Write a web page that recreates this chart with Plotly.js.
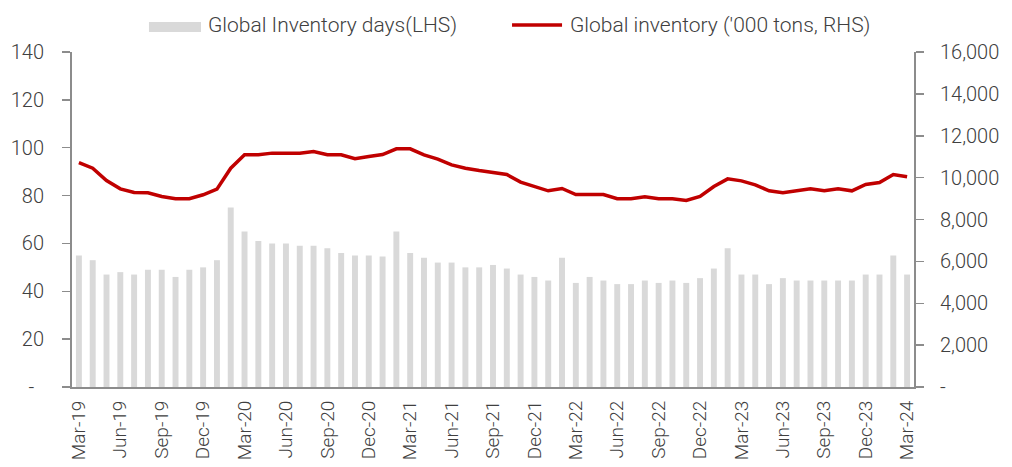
<!DOCTYPE html>
<html>
<head>
<meta charset="utf-8">
<script src="https://cdn.plot.ly/plotly-3.0.1.min.js"></script>
<style>
html,body{margin:0;padding:0;background:#fff;}
#chart{width:1012px;height:467px;}
</style>
</head>
<body>
<div id="chart"></div>
<script>
const months = [
 'Mar-19','Apr-19','May-19','Jun-19','Jul-19','Aug-19','Sep-19','Oct-19','Nov-19','Dec-19',
 'Jan-20','Feb-20','Mar-20','Apr-20','May-20','Jun-20','Jul-20','Aug-20','Sep-20','Oct-20','Nov-20','Dec-20',
 'Jan-21','Feb-21','Mar-21','Apr-21','May-21','Jun-21','Jul-21','Aug-21','Sep-21','Oct-21','Nov-21','Dec-21',
 'Jan-22','Feb-22','Mar-22','Apr-22','May-22','Jun-22','Jul-22','Aug-22','Sep-22','Oct-22','Nov-22','Dec-22',
 'Jan-23','Feb-23','Mar-23','Apr-23','May-23','Jun-23','Jul-23','Aug-23','Sep-23','Oct-23','Nov-23','Dec-23',
 'Jan-24','Feb-24','Mar-24'
];
const inventoryDays = [
 55,53,47,48,47,49,49,46,49,50,
 53,75,65,61,60,60,59,59,58,56,55,55,
 54.5,65,56,54,52,52,50,50,51,49.5,47,46,
 44.5,54,43.5,46,44.5,43,43,44.5,43.5,44.5,43.5,45.5,
 49.5,58,47,47,43,45.5,44.5,44.5,44.5,44.5,44.5,47,
 47,55,47
];
const inventoryTons = [
 10720,10450,9860,9465,9290,9275,9100,8990,8990,9180,
 9450,10450,11090,11090,11170,11170,11170,11250,11090,11090,10900,11010,
 11100,11375,11375,11090,10880,10610,10450,10340,10260,10150,9785,9575,
 9370,9480,9190,9190,9190,8990,8990,9080,8990,8990,8905,9100,
 9575,9940,9845,9655,9370,9275,9385,9465,9370,9465,9370,9670,
 9765,10150,10040
];
const xTicks = ['Mar-19','Jun-19','Sep-19','Dec-19','Mar-20','Jun-20','Sep-20','Dec-20','Mar-21','Jun-21','Sep-21','Dec-21','Mar-22','Jun-22','Sep-22','Dec-22','Mar-23','Jun-23','Sep-23','Dec-23','Mar-24'];
const leftVals = [0,20,40,60,80,100,120,140];
const leftText = ['-\u00a0\u00a0','20','40','60','80','100','120','140'];
const rightVals = [0,2000,4000,6000,8000,10000,12000,14000,16000];
const rightText = ['-','2,000','4,000','6,000','8,000','10,000','12,000','14,000','16,000'];
const legendLabels = ['Global Inventory days(LHS)', "Global inventory ('000 tons, RHS)"];

const barColor = '#d9d9d9';
const lineColor = '#c00000';
const axisColor = '#8c8c8c';
const textColor = '#404040';
const fontFam = 'Roboto, "Open Sans", sans-serif';

const traces = [
  {type:'bar', x:months, y:inventoryDays, name:legendLabels[0], marker:{color:barColor}, yaxis:'y', hoverinfo:'x+y'},
  {type:'scatter', mode:'lines', x:months, y:inventoryTons, name:legendLabels[1], line:{color:lineColor, width:3.5}, yaxis:'y2'}
];

const layout = {
  width:1012, height:467,
  margin:{l:72, r:98, t:52, b:80, pad:0},
  paper_bgcolor:'#fff', plot_bgcolor:'#fff',
  showlegend:false,
  bargap:0.57,
  font:{family:fontFam, size:20, color:textColor, weight:300},
  xaxis:{
    type:'category', categoryorder:'array', categoryarray:months,
    tickmode:'array', tickvals:xTicks, ticktext:xTicks,
    tickangle:-90, ticks:'', showgrid:false, zeroline:false,
    showline:true, linecolor:axisColor, linewidth:2,
    tickfont:{family:fontFam, size:19, color:textColor, weight:300},
    automargin:false, ticklabelstandoff:4
  },
  yaxis:{
    range:[0,140], tickmode:'array', tickvals:leftVals, ticktext:leftText,
    showgrid:false, zeroline:false, showline:true, linecolor:axisColor, linewidth:2,
    ticks:'outside', ticklen:8, tickwidth:1.5, tickcolor:axisColor,
    tickfont:{family:fontFam, size:20, color:textColor, weight:300},
    automargin:false, ticklabelstandoff:14
  },
  yaxis2:{
    range:[0,16000], overlaying:'y', side:'right', tickmode:'array', tickvals:rightVals, ticktext:rightText,
    showgrid:false, zeroline:false, showline:true, linecolor:axisColor, linewidth:2,
    ticks:'outside', ticklen:8, tickwidth:1.5, tickcolor:axisColor,
    tickfont:{family:fontFam, size:20, color:textColor, weight:300},
    automargin:false, ticklabelstandoff:12
  },
  shapes:[
    {type:'rect', xref:'paper', yref:'paper', x0:0.0914, x1:0.1532, y0:1.0597, y1:1.0896, fillcolor:barColor, line:{width:0}},
    {type:'line', xref:'paper', yref:'paper', x0:0.5226, x1:0.582, y0:1.0806, y1:1.0806, line:{color:lineColor, width:3.5}}
  ],
  annotations:[
    {xref:'paper', yref:'paper', x:0.1590, y:1.0806, xanchor:'left', yanchor:'middle', text:legendLabels[0], showarrow:false, font:{family:fontFam, size:21, color:textColor, weight:300}},
    {xref:'paper', yref:'paper', x:0.5890, y:1.0806, xanchor:'left', yanchor:'middle', text:legendLabels[1], showarrow:false, font:{family:fontFam, size:21, color:textColor, weight:300}}
  ]
};

Plotly.newPlot('chart', traces, layout, {displayModeBar:false, staticPlot:true});
</script>
</body>
</html>
